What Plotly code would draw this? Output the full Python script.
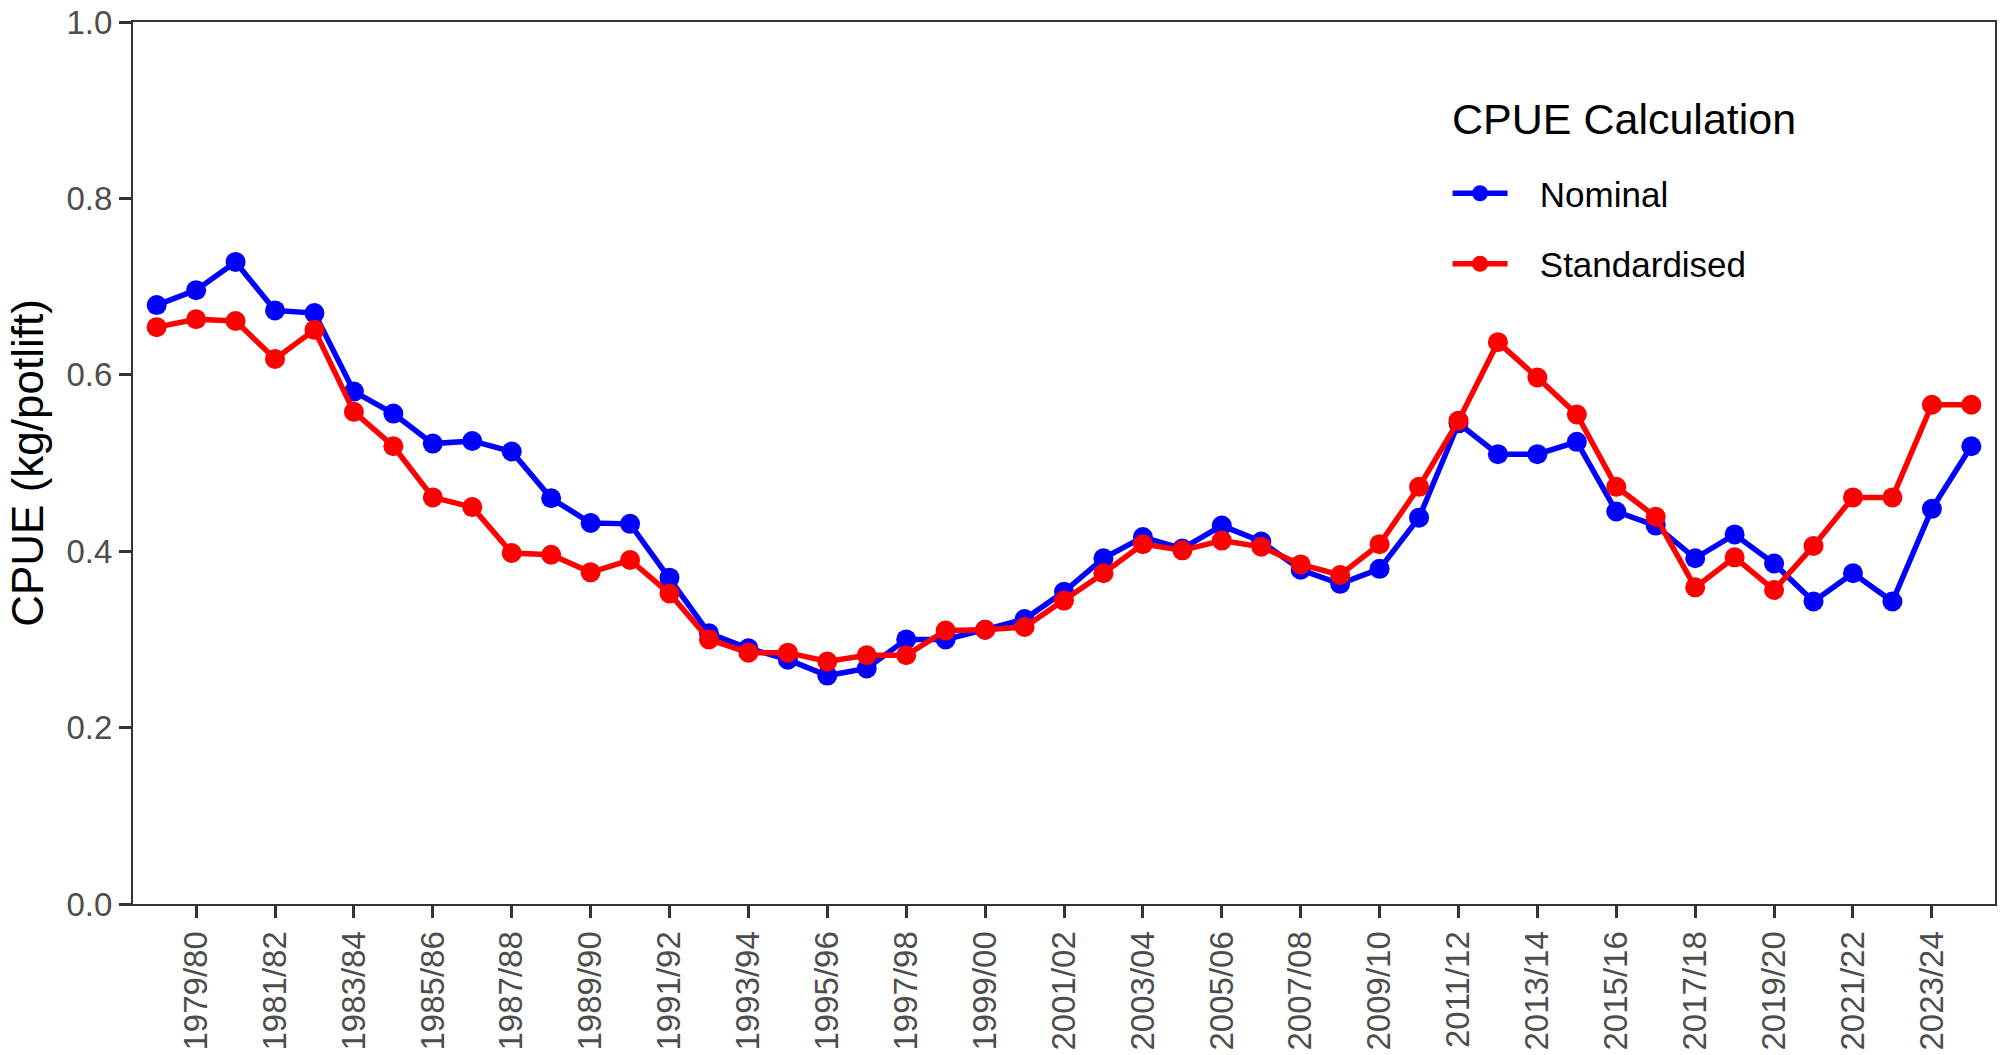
import plotly.graph_objects as go

seasons = [f"{y}/{str(y + 1)[-2:]}" for y in range(1978, 2025)]

nominal = [
    0.679, 0.696, 0.728, 0.673, 0.670, 0.581, 0.556, 0.522, 0.525, 0.513,
    0.460, 0.432, 0.431, 0.370, 0.307, 0.290, 0.277, 0.259, 0.267, 0.300,
    0.300, 0.311, 0.323, 0.354, 0.392, 0.416, 0.403, 0.429, 0.411, 0.379,
    0.363, 0.380, 0.438, 0.545, 0.510, 0.510, 0.524, 0.445, 0.429, 0.392,
    0.419, 0.386, 0.343, 0.375, 0.343, 0.448, 0.519,
]

standardised = [
    0.654, 0.663, 0.661, 0.618, 0.651, 0.558, 0.519, 0.461, 0.450, 0.398,
    0.396, 0.376, 0.390, 0.352, 0.300, 0.285, 0.285, 0.275, 0.282, 0.282,
    0.310, 0.311, 0.314, 0.344, 0.375, 0.408, 0.401, 0.412, 0.405, 0.385,
    0.373, 0.408, 0.473, 0.548, 0.637, 0.597, 0.555, 0.473, 0.439, 0.359,
    0.393, 0.356, 0.406, 0.461, 0.461, 0.566, 0.566,
]

tick_labels = seasons[1::2]

FONT = "Arial, Liberation Sans, sans-serif"
AXIS_COLOR = "#333333"
TICK_TEXT = "#4d4d4d"

fig = go.Figure()
for name, values, color in [("Nominal", nominal, "#0000FF"), ("Standardised", standardised, "#FF0000")]:
    fig.add_scatter(
        x=seasons,
        y=values,
        mode="lines+markers",
        # en space + nbsp to open the gap between key and label like ggplot
        name="\u2002\u00a0" + name,
        legendgroup=name,
        line=dict(color=color, width=5.5),
        marker=dict(color=color, size=20),
    )

axis_style = dict(
    ticks="outside",
    ticklen=12,
    tickwidth=3,
    tickcolor=AXIS_COLOR,
    tickfont=dict(family=FONT, size=33, color=TICK_TEXT),
    ticklabeloverflow="allow",
    showline=True,
    linecolor=AXIS_COLOR,
    linewidth=2,
    mirror=True,
    showgrid=False,
    zeroline=False,
    automargin=False,
)

fig.update_xaxes(
    type="category",
    categoryorder="array",
    categoryarray=seasons,
    range=[-0.6, len(seasons) - 0.4],
    tickmode="array",
    tickvals=tick_labels,
    ticktext=tick_labels,
    tickangle=-90,
    **axis_style,
)
fig.update_yaxes(
    range=[0, 1],
    tickmode="array",
    tickvals=[0, 0.2, 0.4, 0.6, 0.8, 1.0],
    tickformat=".1f",
    title=dict(text="CPUE (kg/potlift)", font=dict(family=FONT, size=44, color="black"), standoff=9),
    **axis_style,
)

fig.add_annotation(
    text="CPUE Calculation",
    xref="paper",
    yref="paper",
    x=0.7073,
    y=0.890,
    xanchor="left",
    yanchor="middle",
    showarrow=False,
    font=dict(family=FONT, size=43, color="black"),
)

fig.update_layout(
    width=2001,
    height=1055,
    margin=dict(l=133, r=6, t=22, b=151),
    paper_bgcolor="white",
    plot_bgcolor="white",
    font=dict(family=FONT, color="black"),
    legend=dict(
        font=dict(family=FONT, size=35, color="black"),
        x=0.706,
        y=0.839,
        xanchor="left",
        yanchor="top",
        bgcolor="rgba(0,0,0,0)",
        itemwidth=55,
        tracegroupgap=22,
    ),
)

# drop the browser's default 8px body margin so the figure fills the window
fig.write_html(
    "out.html",
    config={"displayModeBar": False},
    post_script="document.body.style.margin = '0';",
)
